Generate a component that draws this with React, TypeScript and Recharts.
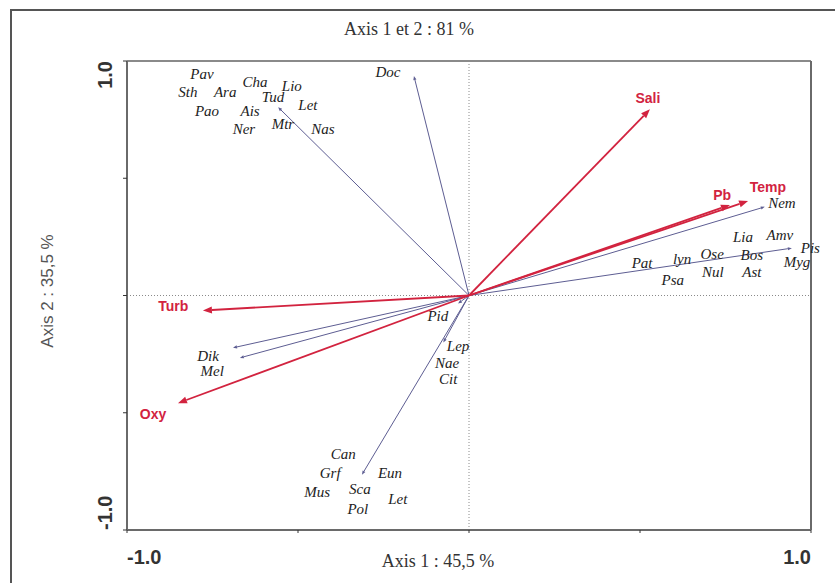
import React from "react";
import { ReferenceLine, Scatter, ScatterChart, XAxis, YAxis } from "recharts";

// species vectors (tips of the thin arrows)
const speciesArrows = [
  { id: "Doc", x: -0.161, y: 0.936 },
  { id: "upper", x: -0.558, y: 0.803 },
  { id: "Nem", x: 0.865, y: 0.378 },
  { id: "Pis", x: 0.944, y: 0.202 },
  { id: "Dik", x: -0.69, y: -0.223 },
  { id: "Mel", x: -0.67, y: -0.266 },
  { id: "Pid", x: -0.032, y: -0.034 },
  { id: "Lep", x: -0.075, y: -0.2 },
  { id: "lower", x: -0.313, y: -0.764 },
];

// species labels
const speciesLabels = [
  { name: "Pav", x: -0.781, y: 0.944 },
  { name: "Cha", x: -0.626, y: 0.91 },
  { name: "Lio", x: -0.518, y: 0.893 },
  { name: "Sth", x: -0.822, y: 0.867 },
  { name: "Ara", x: -0.713, y: 0.867 },
  { name: "Tud", x: -0.573, y: 0.845 },
  { name: "Let", x: -0.471, y: 0.811 },
  { name: "Pao", x: -0.766, y: 0.785 },
  { name: "Ais", x: -0.64, y: 0.785 },
  { name: "Ner", x: -0.658, y: 0.712 },
  { name: "Mtr", x: -0.544, y: 0.73 },
  { name: "Nas", x: -0.427, y: 0.712 },
  { name: "Doc", x: -0.237, y: 0.953 },
  { name: "Nem", x: 0.915, y: 0.395 },
  { name: "Lia", x: 0.801, y: 0.249 },
  { name: "Amv", x: 0.909, y: 0.258 },
  { name: "Pis", x: 0.998, y: 0.202 },
  { name: "lyn", x: 0.623, y: 0.155 },
  { name: "Ose", x: 0.711, y: 0.176 },
  { name: "Bos", x: 0.827, y: 0.172 },
  { name: "Myg", x: 0.959, y: 0.142 },
  { name: "Pat", x: 0.506, y: 0.137 },
  { name: "Psa", x: 0.596, y: 0.064 },
  { name: "Nul", x: 0.713, y: 0.099 },
  { name: "Ast", x: 0.827, y: 0.099 },
  { name: "Dik", x: -0.763, y: -0.256 },
  { name: "Mel", x: -0.751, y: -0.32 },
  { name: "Pid", x: -0.091, y: -0.086 },
  { name: "Lep", x: -0.032, y: -0.215 },
  { name: "Nae", x: -0.064, y: -0.288 },
  { name: "Cit", x: -0.061, y: -0.356 },
  { name: "Can", x: -0.368, y: -0.674 },
  { name: "Grf", x: -0.406, y: -0.755 },
  { name: "Eun", x: -0.231, y: -0.755 },
  { name: "Mus", x: -0.444, y: -0.837 },
  { name: "Sca", x: -0.319, y: -0.824 },
  { name: "Let", x: -0.208, y: -0.867 },
  { name: "Pol", x: -0.325, y: -0.91 },
];

// environmental variables
const envArrows = [
  { id: "Sali", x: 0.529, y: 0.794 },
  { id: "Pb", x: 0.763, y: 0.386 },
  { id: "Temp", x: 0.816, y: 0.403 },
  { id: "Turb", x: -0.778, y: -0.064 },
  { id: "Oxy", x: -0.851, y: -0.459 },
];

const envLabels = [
  { name: "Sali", x: 0.523, y: 0.841 },
  { name: "Pb", x: 0.74, y: 0.429 },
  { name: "Temp", x: 0.874, y: 0.464 },
  { name: "Turb", x: -0.865, y: -0.043 },
  { name: "Oxy", x: -0.924, y: -0.506 },
];

const axisTicks = [-1, -0.5, 0, 0.5, 1];

const RED = "#d2233f";
const SPECIES = "#5d5d92";

function arrowShape(color: string, width: number, len: number, half: number) {
  return (props: any) => {
    const { x1, y1, x2, y2 } = props;
    const a = Math.atan2(y2 - y1, x2 - x1);
    const bx = x2 - len * Math.cos(a);
    const by = y2 - len * Math.sin(a);
    const p1 = `${bx + half * Math.sin(a)},${by - half * Math.cos(a)}`;
    const p2 = `${bx - half * Math.sin(a)},${by + half * Math.cos(a)}`;
    return (
      <g>
        <line x1={x1} y1={y1} x2={bx} y2={by} stroke={color} strokeWidth={width} />
        <polygon points={`${x2},${y2} ${p1} ${p2}`} fill={color} />
      </g>
    );
  };
}

const speciesText = (props: any) => (
  <text
    x={props.cx}
    y={props.cy}
    textAnchor="middle"
    dominantBaseline="central"
    fontFamily="'Liberation Serif', serif"
    fontStyle="italic"
    fontSize={15}
    fill="#222"
  >
    {props.payload.name}
  </text>
);

const envText = (props: any) => (
  <text
    x={props.cx}
    y={props.cy}
    textAnchor="middle"
    dominantBaseline="central"
    fontFamily="'Liberation Sans', Arial, sans-serif"
    fontWeight="bold"
    fontSize={14}
    fill={RED}
  >
    {props.payload.name}
  </text>
);

const XTick = (props: any) => {
  const { x, y, payload } = props;
  const v = payload.value;
  if (Math.abs(v) !== 1) return null;
  return (
    <text
      x={x}
      y={y + 22}
      textAnchor={v < 0 ? "start" : "end"}
      dominantBaseline="central"
      fontFamily="'Liberation Sans', Arial, sans-serif"
      fontWeight="bold"
      fontSize={20}
      fill="#333"
    >
      {v.toFixed(1)}
    </text>
  );
};

const YTick = (props: any) => {
  const { x, y, payload } = props;
  const v = payload.value;
  if (Math.abs(v) !== 1) return null;
  const tx = x - 16;
  return (
    <text
      x={tx}
      y={y}
      transform={`rotate(-90, ${tx}, ${y})`}
      textAnchor={v > 0 ? "end" : "start"}
      dominantBaseline="central"
      fontFamily="'Liberation Sans', Arial, sans-serif"
      fontWeight="bold"
      fontSize={20}
      fill="#333"
    >
      {v.toFixed(1)}
    </text>
  );
};

export default function App() {
  return (
    <div style={{ position: "relative", width: 835, height: 583, overflow: "hidden", background: "#fff" }}>
      <style>{`body{margin:0}`}</style>
      <div
        style={{
          position: "absolute",
          left: 10,
          top: 9,
          width: 900,
          height: 700,
          borderTop: "2px solid #555",
          borderLeft: "2px solid #555",
        }}
      />
      <div
        style={{
          position: "absolute",
          left: 309,
          top: 19,
          width: 200,
          textAlign: "center",
          fontFamily: "'Liberation Serif', serif",
          fontSize: 18,
          color: "#333",
        }}
      >
        Axis 1 et 2 : 81 %
      </div>
      <div
        style={{
          position: "absolute",
          left: 338,
          top: 551,
          width: 200,
          textAlign: "center",
          fontFamily: "'Liberation Serif', serif",
          fontSize: 18,
          color: "#333",
        }}
      >
        Axis 1 : 45,5 %
      </div>
      <div
        style={{
          position: "absolute",
          left: -52,
          top: 281,
          width: 200,
          textAlign: "center",
          transform: "rotate(-90deg)",
          fontFamily: "'Liberation Sans', Arial, sans-serif",
          fontSize: 17,
          color: "#555",
        }}
      >
        Axis 2 : 35,5 %
      </div>
      <div style={{ position: "absolute", left: 0, top: 0 }}>
        <ScatterChart width={835} height={583} margin={{ top: 61, right: 24, bottom: 23, left: 87 }}>
          <XAxis
            type="number"
            dataKey="x"
            domain={[-1, 1]}
            ticks={axisTicks}
            height={30}
            axisLine={{ stroke: "#6a6a6a", strokeWidth: 2 }}
            tickLine={{ stroke: "#333" }}
            tickSize={3}
            tick={<XTick />}
          />
          <YAxis
            type="number"
            dataKey="y"
            domain={[-1, 1]}
            ticks={axisTicks}
            width={40}
            axisLine={{ stroke: "#6a6a6a", strokeWidth: 2 }}
            tickLine={{ stroke: "#333" }}
            tickSize={4}
            tick={<YTick />}
          />
          <ReferenceLine y={1} stroke="#8a8a8a" strokeWidth={2} />
          <ReferenceLine x={1} stroke="#6a6a6a" strokeWidth={2} />
          <ReferenceLine x={0} stroke="#8a8a8a" strokeDasharray="1 2" />
          <ReferenceLine y={0} stroke="#8a8a8a" strokeDasharray="1 2" />
          {speciesArrows.map((a) => (
            <ReferenceLine
              key={a.id}
              segment={[{ x: 0, y: 0 }, { x: a.x, y: a.y }]}
              shape={arrowShape(SPECIES, 1, 4, 1.6)}
            />
          ))}
          {envArrows.map((a) => (
            <ReferenceLine
              key={a.id}
              segment={[{ x: 0, y: 0 }, { x: a.x, y: a.y }]}
              shape={arrowShape(RED, 1.8, 9, 3.5)}
            />
          ))}
          <Scatter data={speciesLabels} shape={speciesText} isAnimationActive={false} />
          <Scatter data={envLabels} shape={envText} isAnimationActive={false} />
        </ScatterChart>
      </div>
    </div>
  );
}
